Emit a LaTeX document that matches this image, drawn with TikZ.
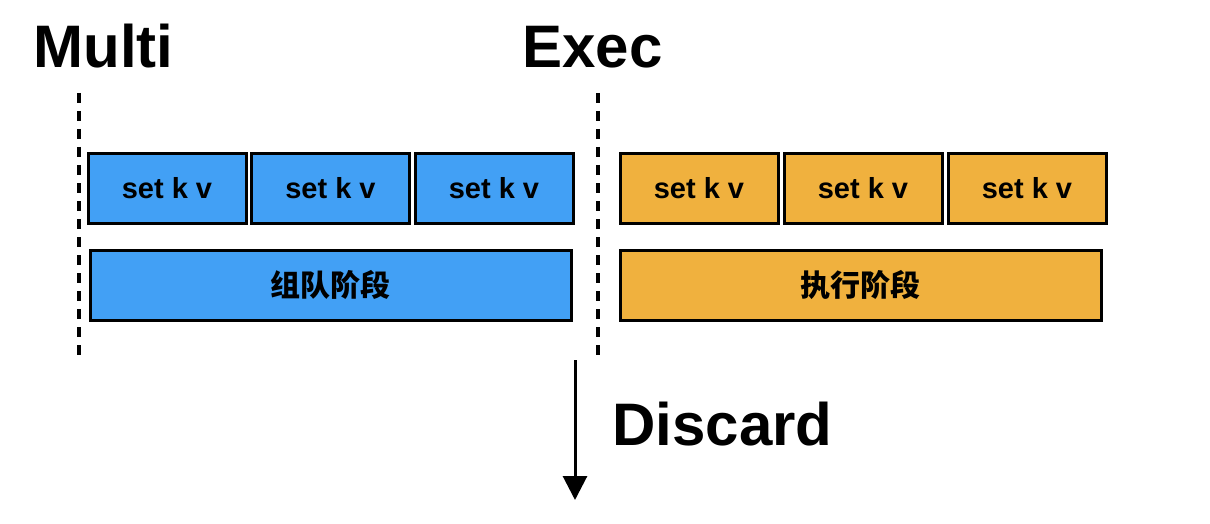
\documentclass[tikz,border=0pt]{standalone}
\usepackage{fontspec}
\setmainfont{Liberation Sans}
\newfontfamily\cjk{Noto Sans CJK SC}
\usetikzlibrary{arrows.meta}
\definecolor{queueblue}{RGB}{66,160,245}
\definecolor{execorange}{RGB}{240,177,62}
\tikzset{
    cmdbox/.style={draw,line width=1.5pt,inner sep=0pt,minimum width=79pt,minimum height=34.5pt,font=\bfseries\fontsize{14.5}{16}\selectfont},
    stagebox/.style={draw,line width=1.5pt,inner sep=0pt,minimum width=240.5pt,minimum height=35pt,font=\cjk\bfseries\fontsize{15}{17}\selectfont},
    title/.style={anchor=base west,inner sep=0pt,font=\bfseries\fontsize{30}{32}\selectfont},
    border/.style={line width=2pt,dash pattern=on 5pt off 4pt}
}
\begin{document}
\begin{tikzpicture}[x=0.5pt,y=-0.5pt]
    \useasboundingbox (0,0) rectangle (1210,524);
    %% Titles
    \node[title] (multi) at (33,68) {Multi};
    \node[title] (exec) at (522,68) {Exec};
    %% Boundaries
    \draw[border] (79,93) -- (79,360);
    \draw[border] (598,93) -- (598,360);
    %% Queued commands
    \node[cmdbox,fill=queueblue] (q1) at (167,188.5) {set k v};
    \node[cmdbox,fill=queueblue] (q2) at (330.5,188.5) {set k v};
    \node[cmdbox,fill=queueblue] (q3) at (494,188.5) {set k v};
    \node[stagebox,fill=queueblue] (queue) at (330.5,285) {组队阶段};
    %% Executed commands
    \node[cmdbox,fill=execorange] (e1) at (699,188.5) {set k v};
    \node[cmdbox,fill=execorange] (e2) at (863,188.5) {set k v};
    \node[cmdbox,fill=execorange] (e3) at (1027,188.5) {set k v};
    \node[stagebox,fill=execorange] (run) at (860.5,285) {执行阶段};
    %% Discard
    \coordinate (discardtop) at (575,360);
    \coordinate (discardend) at (575,500);
    \draw[line width=1.5pt,-{Triangle[width=12pt,length=12pt]}] (discardtop) -- (discardend);
    \node[title] (discard) at (612,445) {Discard};
\end{tikzpicture}
\end{document}
